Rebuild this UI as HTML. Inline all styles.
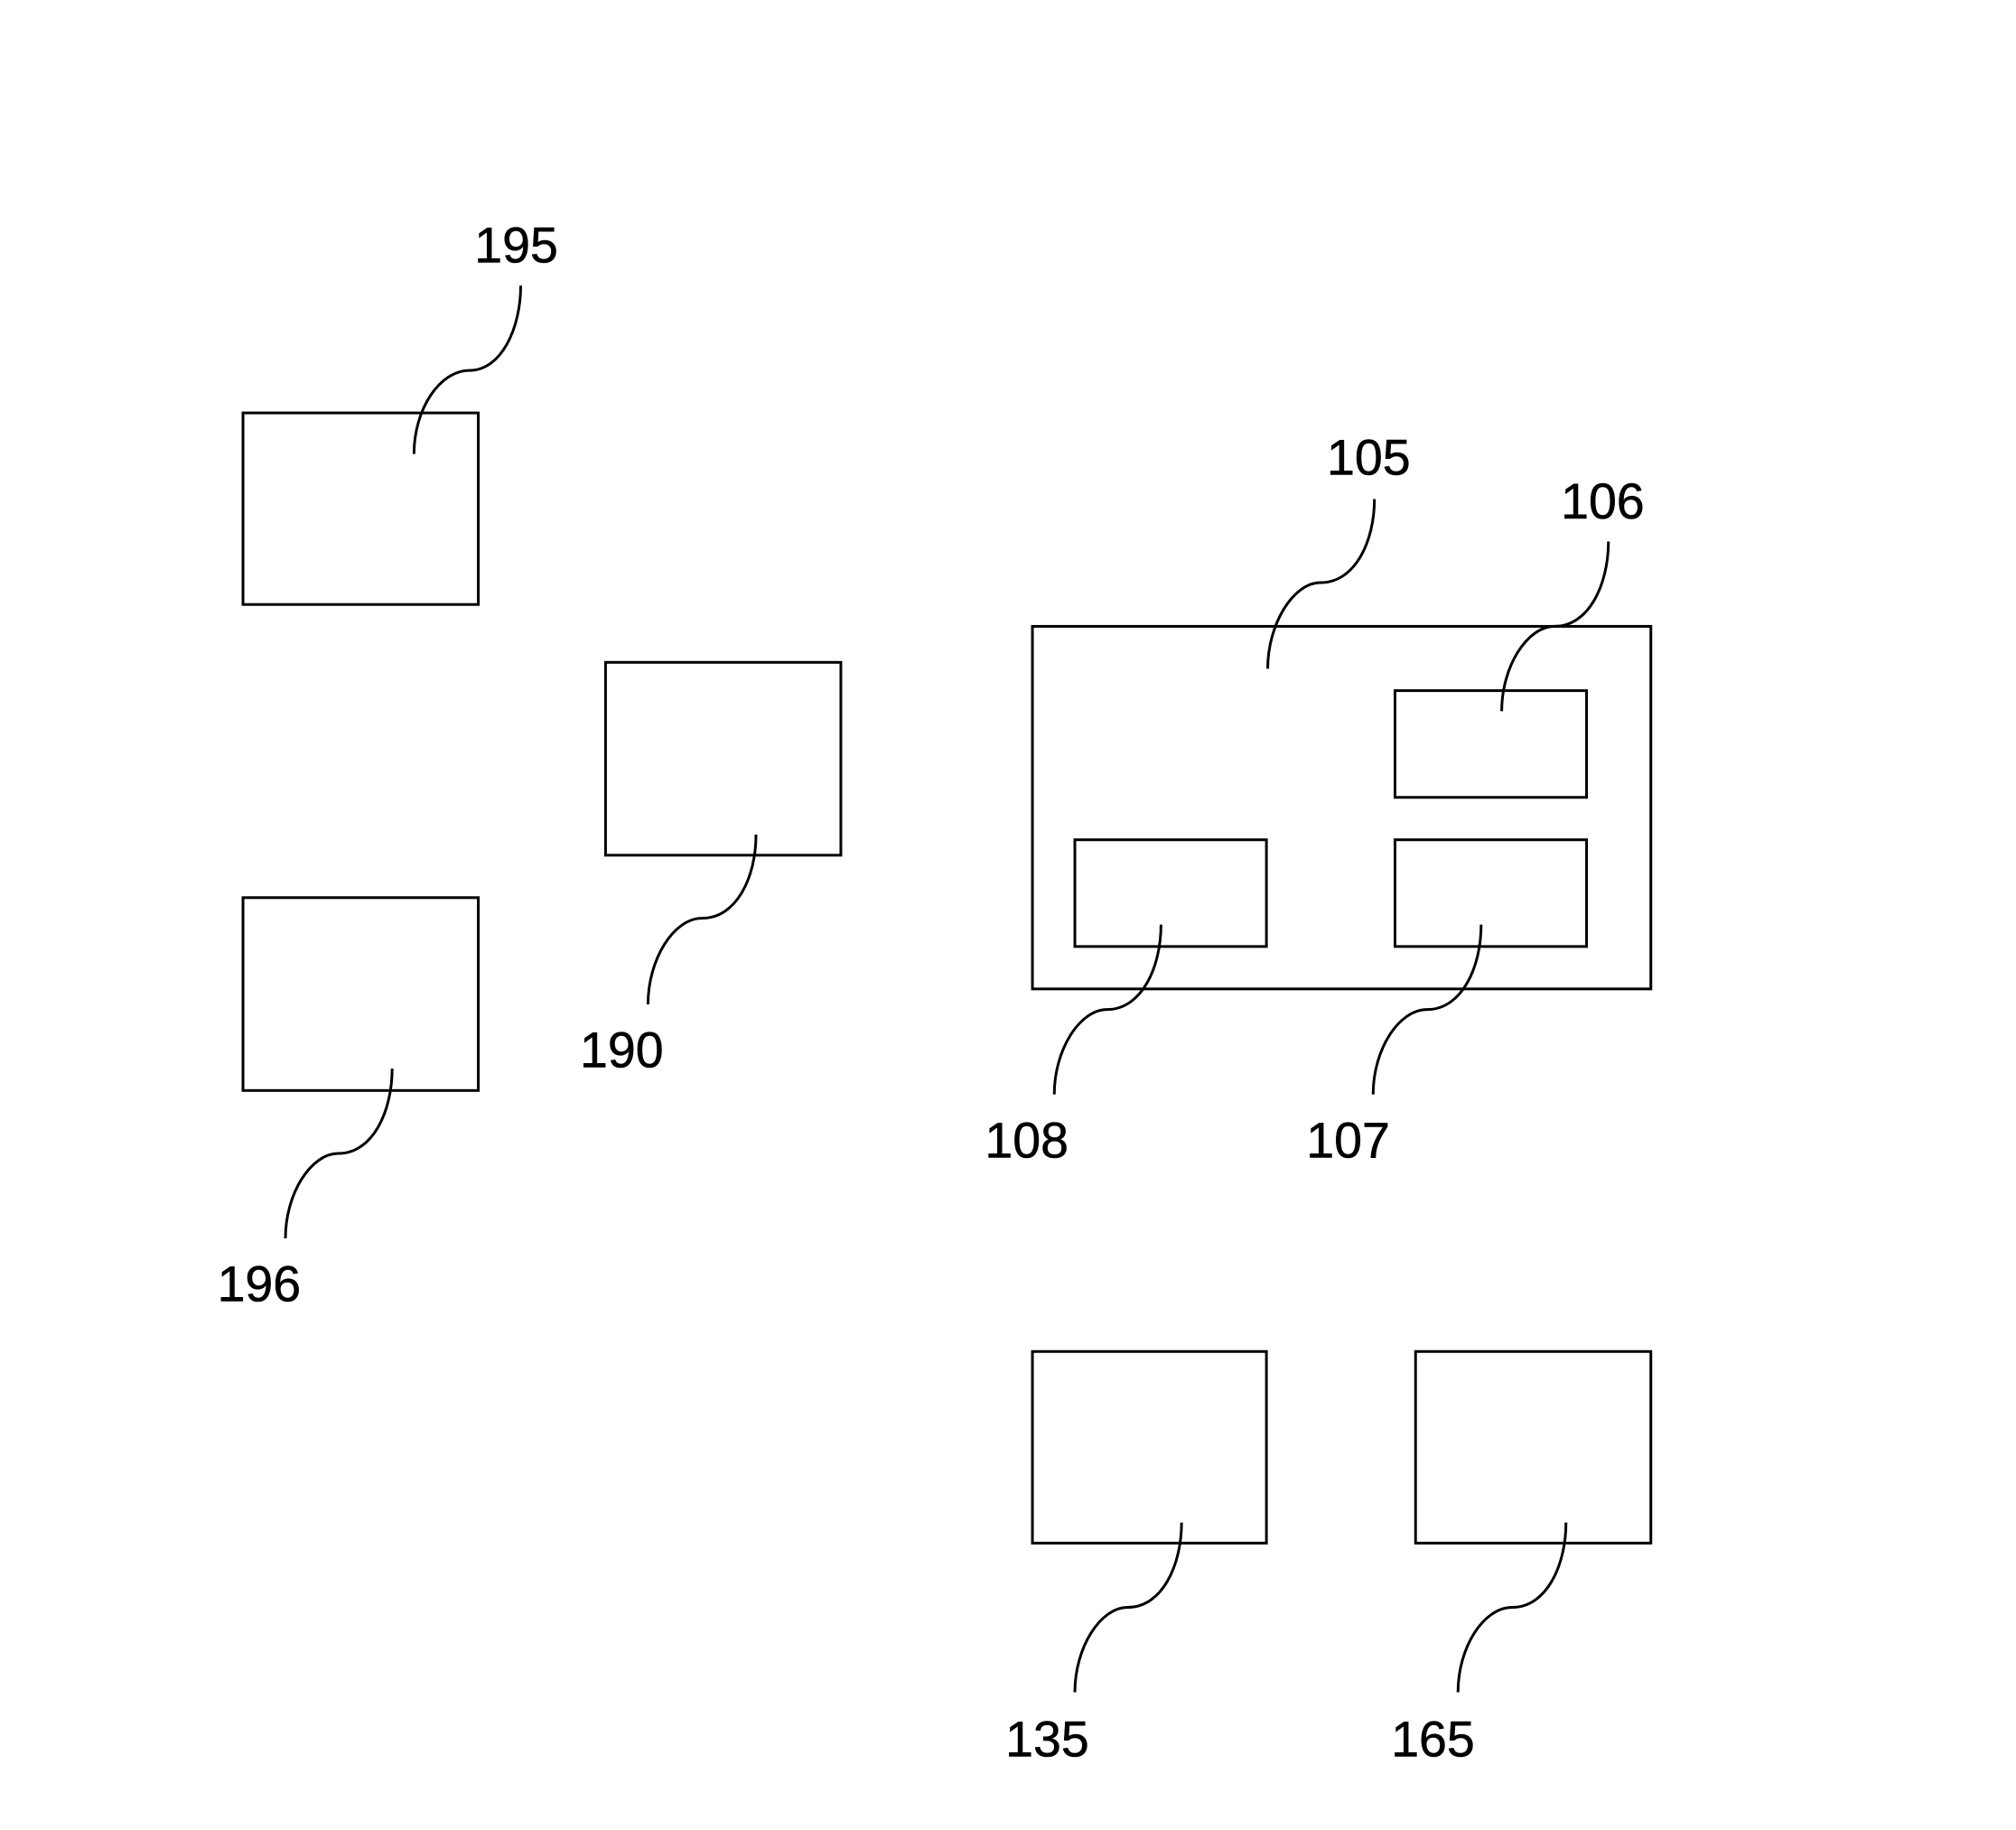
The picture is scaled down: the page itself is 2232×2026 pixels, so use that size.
<!DOCTYPE html>
<html><head><meta charset="utf-8"><style>html,body{margin:0;padding:0;background:#fff}svg{display:block}</style></head>
<body>
<svg width="2232" height="2026" viewBox="0 0 1568 1423" xmlns="http://www.w3.org/2000/svg">
<g fill="none" stroke="#000" stroke-width="2.1">
<rect x="189" y="321" width="183" height="149"/>
<rect x="189" y="698" width="183" height="150"/>
<rect x="471" y="515" width="183" height="150"/>
<rect x="803" y="487" width="481" height="282"/>
<rect x="1085" y="537" width="149" height="83"/>
<rect x="836" y="653" width="149" height="83"/>
<rect x="1085" y="653" width="149" height="83"/>
<rect x="803" y="1051" width="182" height="149"/>
<rect x="1101" y="1051" width="183" height="149"/>
<path d="M322,353 C322,318 342,288 365,288 C390,288 405,255 405,222"/>
<path d="M504,781 C504,746 524,714 546,714 C573,714 588,682 588,649"/>
<path d="M222,963 C222,928 242,897 263,897 C290,897 305,864 305,831"/>
<path d="M986,520 C986,485 1006,453 1027,453 C1054,453 1069,421 1069,388"/>
<path d="M1168,553 C1168,518 1188,487 1209,487 C1236,487 1251,454 1251,421"/>
<path d="M820,851 C820,816 840,785 861,785 C888,785 903,752 903,719"/>
<path d="M1068,851 C1068,816 1088,785 1110,785 C1137,785 1152,752 1152,719"/>
<path d="M836,1316 C836,1281 856,1250 877,1250 C904,1250 919,1217 919,1184"/>
<path d="M1134,1316 C1134,1281 1154,1250 1176,1250 C1203,1250 1218,1217 1218,1184"/>
</g>
<g font-family="Liberation Sans, sans-serif" font-size="39" fill="#000" stroke="#000" stroke-width="0.4">
<text x="369" y="204">195</text>
<text x="451" y="830">190</text>
<text x="169" y="1012">196</text>
<text x="1032" y="369">105</text>
<text x="1214" y="403">106</text>
<text x="766" y="900">108</text>
<text x="1016" y="900">107</text>
<text x="782" y="1366">135</text>
<text x="1082" y="1366">165</text>
</g>
</svg>
</body></html>
